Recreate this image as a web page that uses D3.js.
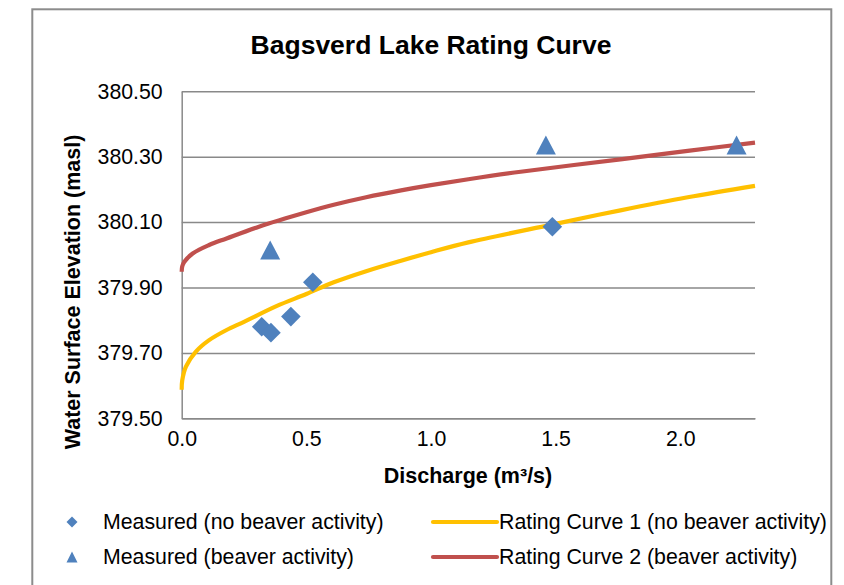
<!DOCTYPE html>
<html>
<head>
<meta charset="utf-8">
<script src="https://cdn.jsdelivr.net/npm/d3@7"></script>
<style>
  html, body { margin: 0; padding: 0; background: #fff; }
  svg { display: block; font-family: "Liberation Sans", Arial, sans-serif; }
</style>
</head>
<body>
<svg id="chart" width="844" height="585"></svg>
<script>
// ---- data ----
const title = "Bagsverd Lake Rating Curve";
const xTitle = "Discharge (m³/s)";
const yTitle = "Water Surface Elevation (masl)";
const xTicks = [0, 0.5, 1.0, 1.5, 2.0];
const yTicks = [379.5, 379.7, 379.9, 380.1, 380.3, 380.5];

// Measured, no beaver activity (diamonds)
const noBeaverQ = [0.321, 0.358, 0.438, 0.526, 1.487];
const noBeaverH = [379.780, 379.762, 379.811, 379.916, 380.086];

// Measured, beaver activity (triangles)
const beaverQ = [0.355, 1.461, 2.226];
const beaverH = [380.015, 380.336, 380.336];

// Rating curve 1 (no beaver activity)
const curve1Q = [0, 0.002, 0.017, 0.057, 0.11, 0.18, 0.25, 0.38, 0.5, 0.61, 0.74, 0.88, 1.0, 1.15, 1.49, 1.76, 2.03, 2.3];
const curve1H = [379.587, 379.615, 379.658, 379.704, 379.739, 379.770, 379.795, 379.843, 379.880, 379.916, 379.950, 379.982, 380.008, 380.038, 380.093, 380.136, 380.176, 380.211];

// Rating curve 2 (beaver activity)
const curve2Q = [0, 0.002, 0.01, 0.044, 0.11, 0.18, 0.31, 0.5, 0.61, 0.74, 0.88, 1.0, 1.15, 1.36, 1.76, 2.03, 2.3];
const curve2H = [379.948, 379.964, 379.978, 380.004, 380.030, 380.050, 380.086, 380.130, 380.153, 380.176, 380.197, 380.213, 380.231, 380.254, 380.292, 380.318, 380.343];

const legendItems = [
  "Measured (no beaver activity)",
  "Measured (beaver activity)",
  "Rating Curve 1 (no beaver activity)",
  "Rating Curve 2 (beaver activity)"
];

// ---- styles ----
const C = { marker: "#4F81BD", yellow: "#FFC000", red: "#C0504D", grid: "#898989", frame: "#8c8c8c" };
const FONT = "'Liberation Sans', Arial, sans-serif";

const svg = d3.select("#chart");

// outer frame
svg.append("rect")
  .attr("x", 32.3).attr("y", 9.3)
  .attr("width", 799).attr("height", 620)
  .attr("fill", "#fff").attr("stroke", C.frame).attr("stroke-width", 2);

const x = d3.scaleLinear().domain([0, 2.3]).range([181.7, 755]);
const y = d3.scaleLinear().domain([379.5, 380.5]).range([418.3, 91.3]);

// gridlines
const gy = svg.append("g").attr("transform", `translate(${x(0)},0)`)
  .call(d3.axisLeft(y).tickValues(yTicks).tickSize(-(x.range()[1] - x.range()[0])).tickFormat(""));
gy.selectAll(".tick line").attr("stroke", C.grid).attr("stroke-width", 1.5);
gy.select(".domain").remove();

// y axis labels + line
const ay = svg.append("g").attr("transform", `translate(${x(0)},0)`)
  .call(d3.axisLeft(y).tickValues(yTicks).tickSize(0).tickPadding(19).tickFormat(d3.format(".2f")));
ay.select(".domain").attr("stroke", C.grid).attr("stroke-width", 1.5);
ay.selectAll(".tick text").attr("font-size", 21.3).attr("fill", "#000").attr("font-family", FONT);

// x axis
const ax = svg.append("g").attr("transform", `translate(0,${y(379.5)})`)
  .call(d3.axisBottom(x).tickValues(xTicks).tickSize(0).tickPadding(13).tickFormat(d3.format(".1f")));
ax.select(".domain").attr("stroke", C.grid).attr("stroke-width", 1.5);
ax.selectAll(".tick text").attr("font-size", 21.3).attr("fill", "#000").attr("font-family", FONT);

// curves
const line = d3.line().x(d => x(d[0])).y(d => y(d[1])).curve(d3.curveCatmullRom.alpha(0.5));
svg.append("path").datum(curve1Q.map((q, i) => [q, curve1H[i]]))
  .attr("d", line).attr("fill", "none").attr("stroke", C.yellow).attr("stroke-width", 4.2);
svg.append("path").datum(curve2Q.map((q, i) => [q, curve2H[i]]))
  .attr("d", line).attr("fill", "none").attr("stroke", C.red).attr("stroke-width", 4.2);

// marker shapes
function diamondPath(r) { return `M0,${-r}L${r},0L0,${r}L${-r},0Z`; }
function trianglePath(w, h) { return `M0,${-h/2}L${w/2},${h/2}L${-w/2},${h/2}Z`; }

svg.append("g").selectAll("path").data(noBeaverQ.map((q, i) => [q, noBeaverH[i]]))
  .join("path")
  .attr("transform", d => `translate(${x(d[0])},${y(d[1])})`)
  .attr("d", diamondPath(9.8)).attr("fill", C.marker);

svg.append("g").selectAll("path").data(beaverQ.map((q, i) => [q, beaverH[i]]))
  .join("path")
  .attr("transform", d => `translate(${x(d[0])},${y(d[1])})`)
  .attr("d", trianglePath(20, 19)).attr("fill", C.marker);

// title
svg.append("text").attr("x", 431).attr("y", 54).attr("text-anchor", "middle")
  .attr("font-size", 26.5).attr("font-weight", "bold").text(title);

// axis titles
svg.append("text").attr("x", 468).attr("y", 482.5).attr("text-anchor", "middle")
  .attr("font-size", 21.5).attr("font-weight", "bold").text(xTitle);
svg.append("text").attr("transform", "translate(80,292) rotate(-90)").attr("text-anchor", "middle")
  .attr("font-size", 21.5).attr("font-weight", "bold").text(yTitle);

// legend
const lg = svg.append("g");
const rows = [522, 557];
lg.append("path").attr("transform", `translate(72,${rows[0]})`).attr("d", diamondPath(5.5)).attr("fill", C.marker);
lg.append("path").attr("transform", `translate(72,${rows[1]})`).attr("d", trianglePath(11, 11)).attr("fill", C.marker);
lg.append("line").attr("x1", 433).attr("x2", 497).attr("y1", rows[0]).attr("y2", rows[0])
  .attr("stroke", C.yellow).attr("stroke-width", 4.2).attr("stroke-linecap", "round");
lg.append("line").attr("x1", 433).attr("x2", 497).attr("y1", rows[1]).attr("y2", rows[1])
  .attr("stroke", C.red).attr("stroke-width", 4.2).attr("stroke-linecap", "round");
const lx = [103, 103, 499, 499];
const ly = [rows[0], rows[1], rows[0], rows[1]];
lg.selectAll("text").data(legendItems).join("text")
  .attr("x", (d, i) => lx[i]).attr("y", (d, i) => ly[i]).attr("dy", "0.35em")
  .attr("font-size", 21.3).attr("fill", "#000").text(d => d);
</script>
</body>
</html>
